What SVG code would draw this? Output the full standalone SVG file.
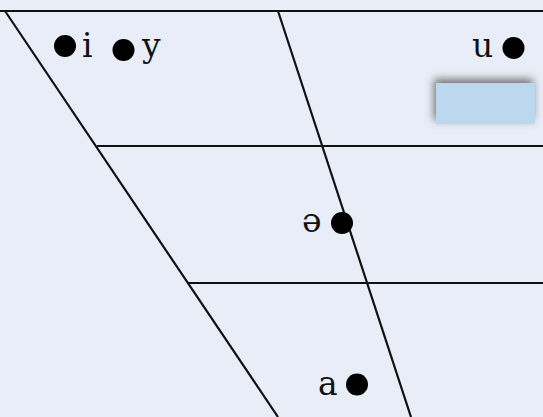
<svg xmlns="http://www.w3.org/2000/svg" width="543" height="417" viewBox="0 0 543 417">
<defs>
<style>
.ln{stroke:#111;stroke-width:2.2;fill:none}
.dot{fill:#000}
.t{font-family:"DejaVu Serif","Liberation Serif",serif;font-size:33px;fill:#111}
</style>
<filter id="sh" x="-30%" y="-50%" width="160%" height="200%">
<feDropShadow dx="-2" dy="-4" stdDeviation="4" flood-color="#555" flood-opacity="0.8"/>
</filter>
</defs>
<rect width="543" height="417" fill="#e9edf7"/>
<g id="connectors">
<line class="ln" x1="0" y1="11" x2="543" y2="11"/>
<line class="ln" x1="5" y1="11" x2="278" y2="417"/>
<line class="ln" x1="278" y1="11" x2="411" y2="417"/>
<line class="ln" x1="97" y1="146" x2="543" y2="146"/>
<line class="ln" x1="187" y1="283" x2="543" y2="283"/>
</g>
<g id="vowel-i"><circle class="dot" cx="65" cy="46" r="11"/><text class="t" x="82" y="57">i</text></g>
<g id="vowel-y"><circle class="dot" cx="123.5" cy="50" r="11"/><text class="t" x="142" y="57">y</text></g>
<g id="vowel-u"><text class="t" x="472" y="57">u</text><circle class="dot" cx="513.5" cy="48" r="11"/></g>
<g id="vowel-schwa"><text class="t" x="302" y="232">ə</text><circle class="dot" cx="342" cy="223" r="11"/></g>
<g id="vowel-a"><text class="t" x="318" y="395">a</text><circle class="dot" cx="357" cy="384.5" r="11"/></g>
<g id="box"><rect x="436" y="83" width="99" height="41" fill="#bdd7ee" filter="url(#sh)"/></g>
</svg>
